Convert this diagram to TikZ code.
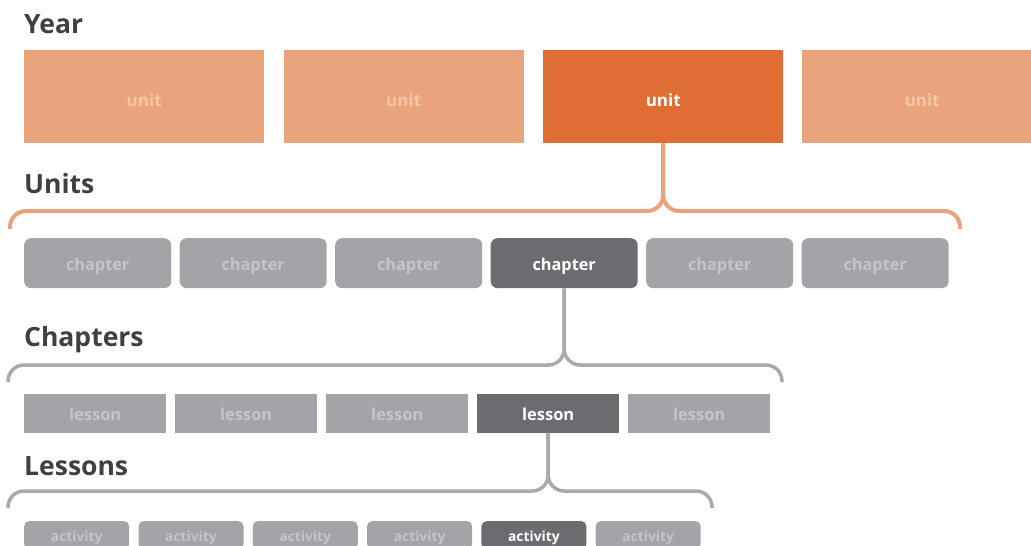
\documentclass[tikz,border=0pt]{standalone}
\usepackage{fontspec}
\setmainfont{Open Sans}
\definecolor{unitlight}{HTML}{E9A47D}
\definecolor{unitdark}{HTML}{E06D33}
\definecolor{unittext}{HTML}{F3C7A3}
\definecolor{graybox}{HTML}{A3A4A8}
\definecolor{graytext}{HTML}{C4C5C8}
\definecolor{darkbox}{HTML}{6B6C70}
\definecolor{titlecol}{HTML}{404040}
\definecolor{bracegray}{HTML}{A9AAAE}
\definecolor{braceorange}{HTML}{EBA27C}
\newcommand{\dn}[2]{\raisebox{-#1pt}[0pt][0pt]{#2}}
\tikzset{
  title/.style={anchor=base west, inner sep=0pt, text=titlecol, font=\bfseries\fontsize{26.5}{26.5}\selectfont},
  box/.style={anchor=north west, inner sep=0pt},
  unitbox/.style={box, fill=unitlight, text=unittext, minimum width=240pt, minimum height=93pt, font=\bfseries\fontsize{17}{17}\selectfont},
  chapbox/.style={box, fill=graybox, text=graytext, rounded corners=7pt, minimum width=147pt, minimum height=50pt, font=\bfseries\fontsize{16.3}{16.3}\selectfont},
  lessbox/.style={box, fill=graybox, text=graytext, minimum width=142pt, minimum height=38.5pt, font=\bfseries\fontsize{16.5}{16.5}\selectfont},
  actbox/.style={box, fill=graybox, text=graytext, rounded corners=5pt, minimum width=105pt, minimum height=28pt, font=\bfseries\fontsize{13.8}{13.8}\selectfont},
  current/.style={fill=darkbox, text=white},
  obrace/.style={draw=braceorange, line width=4pt, rounded corners=16pt},
  gbrace/.style={draw=bracegray, line width=3.5pt, rounded corners=16pt}
}
\begin{document}
\begin{tikzpicture}[x=1pt,y=-1pt]
\useasboundingbox (0,0) rectangle (1031,546);
\clip (0,0) rectangle (1031,546);

% titles
\node[title] (tYear) at (24,33) {Year};
\node[title] (tUnits) at (24,193) {Units};
\node[title] (tChapters) at (24,346) {Chapters};
\node[title] (tLessons) at (24,475) {Lessons};

% units
\node[unitbox] (u1) at (24,50) {\dn{10}{unit}};
\node[unitbox] (u2) at (283.5,50) {\dn{10}{unit}};
\node[unitbox, fill=unitdark, text=white] (u3) at (543,50) {\dn{10}{unit}};
\node[unitbox] (u4) at (802,50) {\dn{10}{unit}};

% chapters
\node[chapbox] (c1) at (24,238) {\dn{7}{chapter}};
\node[chapbox] (c2) at (179.5,238) {\dn{7}{chapter}};
\node[chapbox] (c3) at (335,238) {\dn{7}{chapter}};
\node[chapbox, current] (c4) at (490.5,238) {\dn{7}{chapter}};
\node[chapbox] (c5) at (646,238) {\dn{7}{chapter}};
\node[chapbox] (c6) at (801.5,238) {\dn{7}{chapter}};

% lessons
\node[lessbox] (l1) at (24,394) {\dn{7.5}{lesson}};
\node[lessbox] (l2) at (175,394) {\dn{7.5}{lesson}};
\node[lessbox] (l3) at (326,394) {\dn{7.5}{lesson}};
\node[lessbox, current] (l4) at (477,394) {\dn{7.5}{lesson}};
\node[lessbox] (l5) at (628,394) {\dn{7.5}{lesson}};

% activities
\node[actbox] (a1) at (24,521) {\dn{6}{activity}};
\node[actbox] (a2) at (138.3,521) {\dn{6}{activity}};
\node[actbox] (a3) at (252.6,521) {\dn{6}{activity}};
\node[actbox] (a4) at (366.9,521) {\dn{6}{activity}};
\node[actbox, current] (a5) at (481.2,521) {\dn{6}{activity}};
\node[actbox] (a6) at (595.5,521) {\dn{6}{activity}};

% brace coordinates
\coordinate (ohL) at (10,211);
\coordinate (ohR) at (960,211);
\coordinate (oeL) at (10,229);
\coordinate (oeR) at (960,229);

\coordinate (chL) at (8,365);
\coordinate (chR) at (782,365);
\coordinate (ceL) at (8,382);
\coordinate (ceR) at (782,382);

\coordinate (lhL) at (8,491);
\coordinate (lhR) at (712,491);
\coordinate (leL) at (8,508);
\coordinate (leR) at (712,508);

% braces
\draw[obrace] (u3.south) -- (u3.south |- ohL) -- (ohL) -- (oeL);
\draw[obrace] (u3.south) -- (u3.south |- ohR) -- (ohR) -- (oeR);

\draw[gbrace] (c4.south) -- (c4.south |- chL) -- (chL) -- (ceL);
\draw[gbrace] (c4.south) -- (c4.south |- chR) -- (chR) -- (ceR);

\draw[gbrace] (l4.south) -- (l4.south |- lhL) -- (lhL) -- (leL);
\draw[gbrace] (l4.south) -- (l4.south |- lhR) -- (lhR) -- (leR);
\end{tikzpicture}
\end{document}
